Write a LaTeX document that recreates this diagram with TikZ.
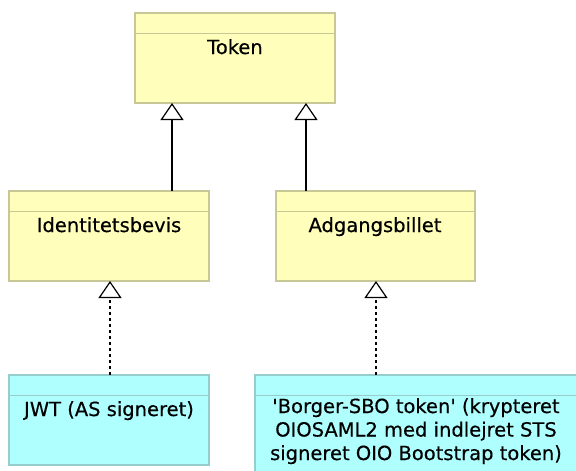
\documentclass[tikz,border=0pt]{standalone}
\usepackage{fontspec}
\setmainfont{DejaVu Sans}[FakeBold=0.4]
\usetikzlibrary{arrows.meta}
\definecolor{classyellow}{RGB}{255,255,187}
\definecolor{classyellowline}{RGB}{200,200,150}
\definecolor{classcyan}{RGB}{176,255,255}
\definecolor{classcyanline}{RGB}{150,205,205}
\begin{document}
\begin{tikzpicture}[x=1pt,y=-1pt,
  classbox/.style={draw=#1line, fill=#1, line width=1.2pt},
  classname/.style={anchor=north, inner sep=0pt, font=\fontsize{19.5}{23.5}\selectfont, align=center},
  inherit/.style={draw=black, line width=1.4pt, -{Triangle[open, length=17pt, width=23pt, line width=1.2pt]}},
  realize/.style={inherit, dash pattern=on 3pt off 3pt}]
\useasboundingbox (0,0) rectangle (576,471);

% class boxes with an empty top compartment
\draw[classbox=classyellow] (135,13) rectangle (335,103);
\draw[classyellowline, line width=1pt] (135,33) -- (335,33);
\draw[classbox=classyellow] (9,191) rectangle (209,281);
\draw[classyellowline, line width=1pt] (9,211) -- (209,211);
\draw[classbox=classyellow] (276,191) rectangle (475,281);
\draw[classyellowline, line width=1pt] (276,211) -- (475,211);
\draw[classbox=classcyan] (9,375) rectangle (209,465);
\draw[classcyanline, line width=1pt] (9,395) -- (209,395);
\draw[classbox=classcyan] (255,375) rectangle (580,480);
\draw[classcyanline, line width=1pt] (255,395) -- (580,395);

% class names
\node[classname] (token) at (235,39) {Token};
\node[classname] (ident) at (109,217) {Identitetsbevis};
\node[classname] (adgang) at (375,217) {Adgangsbillet};
\node[classname] (jwt) at (109,401) {JWT (AS signeret)};
\node[classname] (borger) at (416,398) {\textquotesingle Borger-SBO token\textquotesingle{} (krypteret\\OIOSAML2 med indlejret STS\\signeret OIO Bootstrap token)};

% attachment points on the box edges
\coordinate (identTop) at (172,191);
\coordinate (tokenL) at (172,103);
\coordinate (adgangTop) at (306,191);
\coordinate (tokenR) at (306,103);
\coordinate (jwtTop) at (110,375);
\coordinate (identBot) at (110,281);
\coordinate (borgerTop) at (376,375);
\coordinate (adgangBot) at (376,281);

% generalisation and realisation
\draw[inherit] (identTop) -- (tokenL);
\draw[inherit] (adgangTop) -- (tokenR);
\draw[realize] (jwtTop) -- (identBot);
\draw[realize] (borgerTop) -- (adgangBot);
\end{tikzpicture}
\end{document}
